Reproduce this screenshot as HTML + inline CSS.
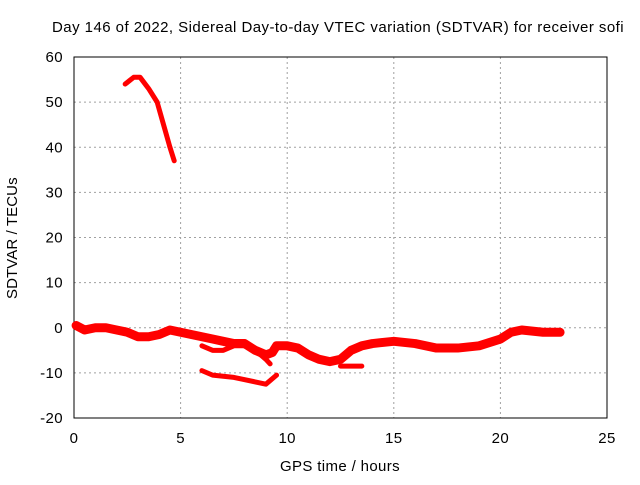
<!DOCTYPE html>
<html><head><meta charset="utf-8"><style>
body{margin:0;background:#fff}
svg text{font-family:"Liberation Sans",sans-serif;font-size:15px;letter-spacing:0.4px;fill:#000}
</style></head><body>
<svg id="c" width="640" height="480"></svg>
<script>
const xTicks=[0,5,10,15,20,25];
const yTicks=[-20,-10,0,10,20,30,40,50,60];
const arcX=[2.4,2.8,3.1,3.5,3.9,4.2,4.5,4.7];
const arcY=[54,55.5,55.5,53,50,45,40,37];
const mainX=[0.1,0.5,1,1.5,2,2.5,3,3.5,4,4.5,5,5.5,6,6.5,7,7.5,8,8.5,9,9.3,9.5,10,10.5,11,11.5,12,12.5,13,13.5,14,15,16,17,18,19,20,20.5,21,22,22.8];
const mainY=[0.5,-0.5,0,0,-0.5,-1,-2,-2,-1.5,-0.5,-1,-1.5,-2,-2.5,-3,-3.5,-3.5,-5,-6,-5.5,-4,-4,-4.5,-6,-7,-7.5,-7,-5,-4,-3.5,-3,-3.5,-4.5,-4.5,-4,-2.5,-1,-0.5,-1,-1];
const branchX=[6,6.5,7,7.5,8,8.5,9,9.2];
const branchY=[-4,-5,-5,-4,-4,-5,-7,-8];
const extraX=[12.5,13.5];
const extraY=[-8.5,-8.5];
const lowX=[6,6.5,7.5,8.5,9,9.5];
const lowY=[-9.5,-10.5,-11,-12,-12.5,-10.5];
const svg=document.getElementById('c');const NS='http://www.w3.org/2000/svg';
const L=74,R=607,T=57,B=418;
const sx=v=>L+(v-0)/25*(R-L), sy=v=>B-(v+20)/80*(B-T);
function el(t,a){const e=document.createElementNS(NS,t);for(const k in a)e.setAttribute(k,a[k]);svg.appendChild(e);return e;}
xTicks.forEach(v=>{
 if(v>0&&v<25){const g=el('line',{x1:sx(v),x2:sx(v),y1:T,y2:B,stroke:'#a0a0a0','stroke-dasharray':'2,3'});
 
 }
 const t=el('text',{x:sx(v),y:B+25,'text-anchor':'middle'});t.textContent=v;
 
 
});
yTicks.forEach(v=>{
 if(v>-20&&v<60){const g=el('line',{x1:L,x2:R,y1:sy(v),y2:sy(v),stroke:'#a0a0a0','stroke-dasharray':'2,3'});
 
 }
 const t=el('text',{x:L-11,y:sy(v)+5,'text-anchor':'end'});t.textContent=v;
 
 
});
const f=el('rect',{x:L,y:T,width:R-L,height:B-T,fill:'none',stroke:'#000'});


function series(xs,ys,w,name){
 const p=el('polyline',{points:xs.map((x,i)=>sx(x)+','+sy(ys[i])).join(' '),fill:'none',stroke:'#ff0000','stroke-width':w,'stroke-linejoin':'round','stroke-linecap':'round'});
 
 
}
series(arcX,arcY,5,'series-arc');
series(mainX,mainY,9,'series-main');
series(branchX,branchY,5,'series-branch');
series(extraX,extraY,5,'series-extra');
series(lowX,lowY,5,'series-low');
</script>
<svg width="640" height="480" style="position:absolute;left:0;top:0">
<text x="338" y="32" text-anchor="middle" textLength="572">Day 146 of 2022, Sidereal Day-to-day VTEC variation (SDTVAR) for receiver sofi</text>
<text x="340" y="471" text-anchor="middle" textLength="120">GPS time / hours</text>
<text x="0" y="0" transform="translate(17,238) rotate(-90)" text-anchor="middle" textLength="122">SDTVAR / TECUs</text>
</svg>
</body></html>
